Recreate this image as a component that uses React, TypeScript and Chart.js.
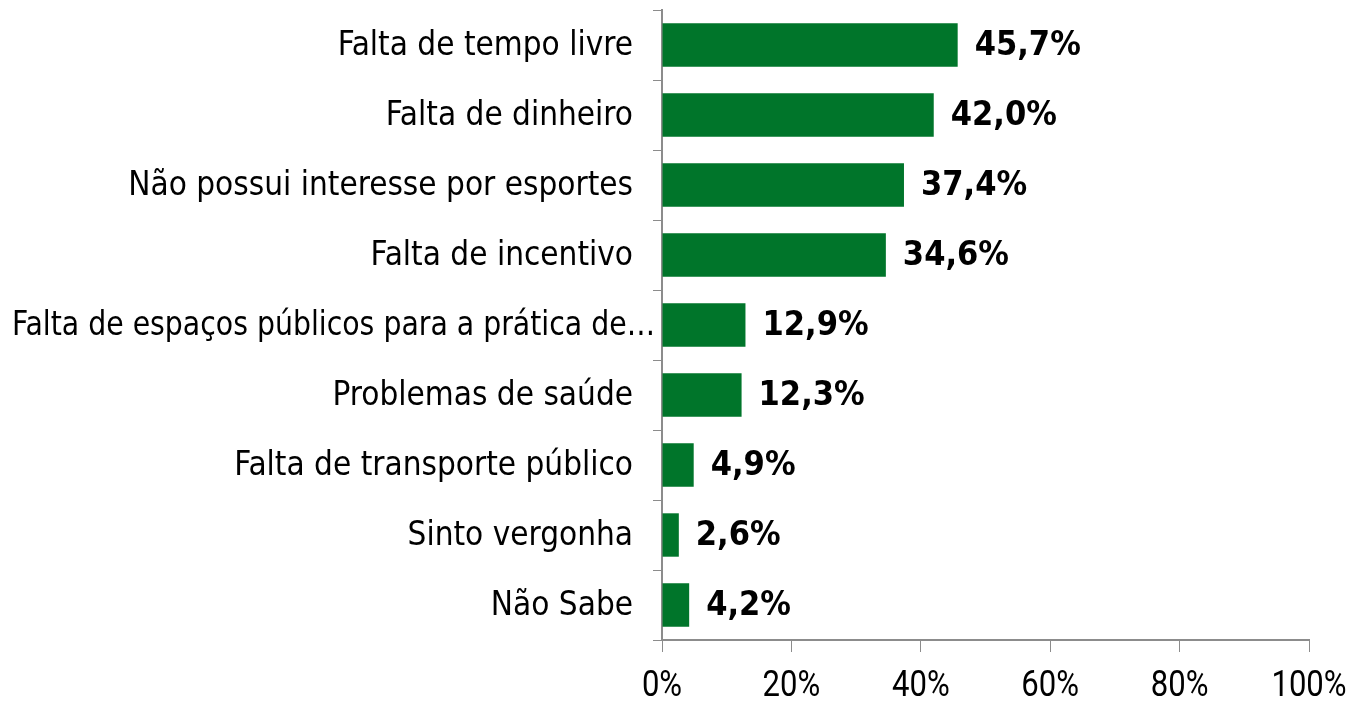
import React, { useEffect, useRef } from "react";
import { Chart, registerables } from "chart.js";

Chart.register(...registerables);

const categories = [
  "Falta de tempo livre",
  "Falta de dinheiro",
  "Não possui interesse por esportes",
  "Falta de incentivo",
  "Falta de espaços públicos para a prática de…",
  "Problemas de saúde",
  "Falta de transporte público",
  "Sinto vergonha",
  "Não Sabe",
];
const values = [45.7, 42.0, 37.4, 34.6, 12.9, 12.3, 4.9, 2.6, 4.2];
const valueLabels = ["45,7%", "42,0%", "37,4%", "34,6%", "12,9%", "12,3%", "4,9%", "2,6%", "4,2%"];
const xTicks = [0, 20, 40, 60, 80, 100];
const xTickLabels = ["0%", "20%", "40%", "60%", "80%", "100%"];

const BAR_COLOR = "#00752A";
const AXIS_COLOR = "#8C8C8C";
const CAT_FONT = "33px 'DejaVu Sans Condensed', 'DejaVu Sans', sans-serif";
const XTICK_FONT = "37px Roboto, 'Liberation Sans', sans-serif";

const labelPlugin = {
  id: "valueLabels",
  afterDatasetsDraw(chart: any) {
    const ctx = chart.ctx;
    const meta = chart.getDatasetMeta(0);
    ctx.save();
    ctx.font = "bold 34px 'DejaVu Sans Condensed', 'DejaVu Sans', sans-serif";
    ctx.fillStyle = "#000";
    ctx.textAlign = "left";
    ctx.textBaseline = "middle";
    meta.data.forEach((bar: any, i: number) => {
      ctx.fillText(valueLabels[i], bar.x + 17, bar.y + 1);
    });
    // category labels
    const y = chart.scales.y;
    ctx.font = CAT_FONT;
    const rightEdge = y.right - 29;
    const leftLimit = 12;
    categories.forEach((c: string, i: number) => {
      const py = y.getPixelForTick(i) + 1;
      const w = ctx.measureText(c).width;
      if (rightEdge - w >= leftLimit) {
        ctx.textAlign = "right";
        ctx.fillText(c, rightEdge, py);
      } else {
        ctx.textAlign = "left";
        ctx.fillText(c, leftLimit, py, 643);
      }
    });
    // x tick labels (condensed horizontally)
    const x = chart.scales.x;
    ctx.font = XTICK_FONT;
    ctx.textAlign = "center";
    const sx = 0.84;
    xTicks.forEach((v: number, i: number) => {
      const px = x.getPixelForValue(v);
      ctx.save();
      ctx.translate(px, x.top + 47);
      ctx.scale(sx, 1);
      ctx.fillText(xTickLabels[i], 0, 0);
      ctx.restore();
    });
    ctx.restore();
  },
};

export default function App() {
  const ref = useRef<HTMLCanvasElement | null>(null);
  useEffect(() => {
    if (!ref.current) return;
    const chart = new Chart(ref.current, {
      type: "bar",
      data: {
        labels: categories,
        datasets: [
          {
            data: values,
            backgroundColor: BAR_COLOR,
            barPercentage: 0.62,
            categoryPercentage: 1,
          },
        ],
      },
      options: {
        indexAxis: "y",
        animation: false,
        responsive: false,
        maintainAspectRatio: false,
        layout: { autoPadding: false, padding: { top: 10, right: 45, left: 0, bottom: 0 } },
        plugins: { legend: { display: false }, tooltip: { enabled: false } },
        scales: {
          y: {
            afterFit(scale: any) {
              scale.width = 662;
              scale.paddingTop = 0;
              scale.paddingBottom = 0;
            },
            grid: {
              drawOnChartArea: false,
              tickLength: 9,
              color: AXIS_COLOR,
              offset: true,
            },
            border: { color: AXIS_COLOR, width: 2 },
            ticks: { display: false },
          },
          x: {
            min: 0,
            max: 100,
            afterFit(scale: any) {
              scale.height = 62;
              scale.paddingLeft = 0;
              scale.paddingRight = 0;
            },
            afterBuildTicks(scale: any) {
              scale.ticks = xTicks.map((v) => ({ value: v }));
            },
            grid: {
              drawOnChartArea: false,
              tickLength: 12,
              color: AXIS_COLOR,
            },
            border: { color: AXIS_COLOR, width: 2 },
            ticks: { display: false },
          },
        },
      },
      plugins: [labelPlugin],
    });
    return () => chart.destroy();
  }, []);
  return (
    <div style={{ position: "fixed", left: 0, top: 0, width: 1354, height: 702, background: "#fff" }}>
      <canvas ref={ref} width={1354} height={702} style={{ display: "block" }} />
    </div>
  );
}
